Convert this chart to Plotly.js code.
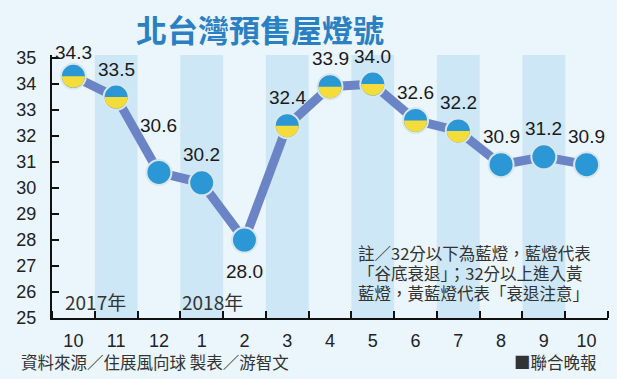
<!DOCTYPE html>
<html><head><meta charset="utf-8">
<script src="https://cdn.plot.ly/plotly-3.0.1.min.js"></script>
<style>html,body{margin:0;padding:0;background:#eaf5fc}</style>
</head><body><div id="chart" style="width:617px;height:379px"></div>
<script>
// ---- data ----
const months = ['10','11','12','1','2','3','4','5','6','7','8','9','10'];
const scores = [34.3,33.5,30.6,30.2,28.0,32.4,33.9,34.0,32.6,32.2,30.9,31.2,30.9];
const yearLabels = ['2017年','2018年'];
const yearStartIndex = [0, 3];
const threshold = 32;
const yTicks = [25,26,27,28,29,30,31,32,33,34,35];
const titleText = '北台灣預售屋燈號';
const noteLines = ['註／32分以下為藍燈，藍燈代表','「谷底衰退」；32分以上進入黃','藍燈，黃藍燈代表「衰退注意」'];
const sourceText = '資料來源／住展風向球 製表／游智文';
const creditText = '■聯合晚報';

// ---- styles ----
const BG = '#eaf5fc', BAND = '#cde7f6', LINE = '#6b84c5', BLUE = '#2b97d5', YELLOW = '#f4dc3a';
const NUM = 'Liberation Sans, Arial, sans-serif';
const CJK = 'Noto Sans CJK TC, sans-serif';
const yMin = 25, yMax = 35.12;
const W = 617, H = 379, ML = 52, MR = 9, MT = 55, MB = 61;
const PW = W - ML - MR, PH = H - MT - MB;
const px2paperX = p => (p - ML) / PW;
const px2paperY = p => (H - MB - p) / PH;

const idx = months.map((m, i) => i);
const bandX = idx.filter(i => i % 2 === 1);

const traces = [
  { type: 'bar', x: bandX, y: bandX.map(() => yMax - yMin), base: yMin, width: 1,
    marker: { color: BAND, line: { width: 0 } }, hoverinfo: 'skip', showlegend: false },
  { type: 'scatter', mode: 'lines+markers', x: idx, y: scores,
    line: { color: LINE, width: 9 },
    marker: { size: 25, color: BLUE, line: { color: '#d9e6ee', width: 2 } },
    hoverinfo: 'skip', showlegend: false }
];

// yellow upper half for "yellow-blue" lights
const r = 11.5, k = 0.5523 * r;
const halfPath = `M ${-r},0 C ${-r},${-k} ${-k},${-r} 0,${-r} C ${k},${-r} ${r},${-k} ${r},0 Z`;
const shapes = idx.filter(i => scores[i] >= threshold).map(i => ({
  type: 'path', layer: 'above', xref: 'x', yref: 'y',
  xsizemode: 'pixel', ysizemode: 'pixel', xanchor: i, yanchor: scores[i],
  path: halfPath, fillcolor: YELLOW, line: { width: 0 }
}));

const shiftOverride = { 0: 24, 2: 47, 4: -31 };
const annotations = idx.map(i => ({
  x: i, y: scores[i], xref: 'x', yref: 'y', showarrow: false,
  text: scores[i].toFixed(1), yshift: (i in shiftOverride) ? shiftOverride[i] : 28,
  font: { family: NUM, size: 19, color: '#1a1a1a' }
}));
const yearShift = [11, 0];
yearLabels.forEach((t, j) => annotations.push({
  x: yearStartIndex[j] - 0.5, y: 25.65, xref: 'x', yref: 'y', xanchor: 'left', showarrow: false,
  xshift: yearShift[j], text: t, font: { family: CJK, size: 19, color: '#333' }
}));
noteLines.forEach((t, j) => annotations.push({
  x: px2paperX(356), y: px2paperY(253 + 20 * j), xref: 'paper', yref: 'paper',
  xanchor: 'left', yanchor: 'middle', showarrow: false, text: t,
  font: { family: CJK, size: 16.5, color: '#333' }
}));
annotations.push({
  x: px2paperX(19), y: px2paperY(362), xref: 'paper', yref: 'paper', xanchor: 'left', yanchor: 'middle',
  showarrow: false, text: sourceText, font: { family: CJK, size: 16.5, color: '#333' }
});
annotations.push({
  x: px2paperX(599), y: px2paperY(362), xref: 'paper', yref: 'paper', xanchor: 'right', yanchor: 'middle',
  showarrow: false, text: creditText, font: { family: CJK, size: 16.5, color: '#333' }
});

const layout = {
  width: W, height: H,
  margin: { l: ML, r: MR, t: MT, b: MB },
  paper_bgcolor: BG, plot_bgcolor: BG,
  showlegend: false,
  title: { text: '<b>' + titleText + '</b>', x: 260/W, xanchor: 'center', xref: 'container',
           y: 1 - 31/H, yanchor: 'middle', yref: 'container',
           font: { family: CJK, size: 31, color: '#2a80c2' } },
  xaxis: {
    range: [-0.5, 12.5], tickmode: 'array', tickvals: idx, ticktext: months,
    ticks: '', showgrid: false, zeroline: false, fixedrange: true,
    showline: true, linecolor: '#111', linewidth: 2,
    ticklabelstandoff: 5,
    tickfont: { family: NUM, size: 18, color: '#222' },
    minor: { tick0: 0.5, dtick: 1, ticks: 'inside', ticklen: 7, tickwidth: 2, tickcolor: '#111', showgrid: false }
  },
  yaxis: {
    range: [yMin, yMax], tickmode: 'array', tickvals: yTicks, ticktext: yTicks.map(String),
    ticks: 'inside', ticklen: 7, tickwidth: 2, tickcolor: '#111',
    showgrid: false, zeroline: false, fixedrange: true,
    showline: true, linecolor: '#111', linewidth: 2,
    ticklabelstandoff: 10,
    tickfont: { family: NUM, size: 18, color: '#222' }
  },
  shapes: shapes,
  annotations: annotations
};

Plotly.newPlot('chart', traces, layout, { displayModeBar: false, staticPlot: true });
</script></body></html>
